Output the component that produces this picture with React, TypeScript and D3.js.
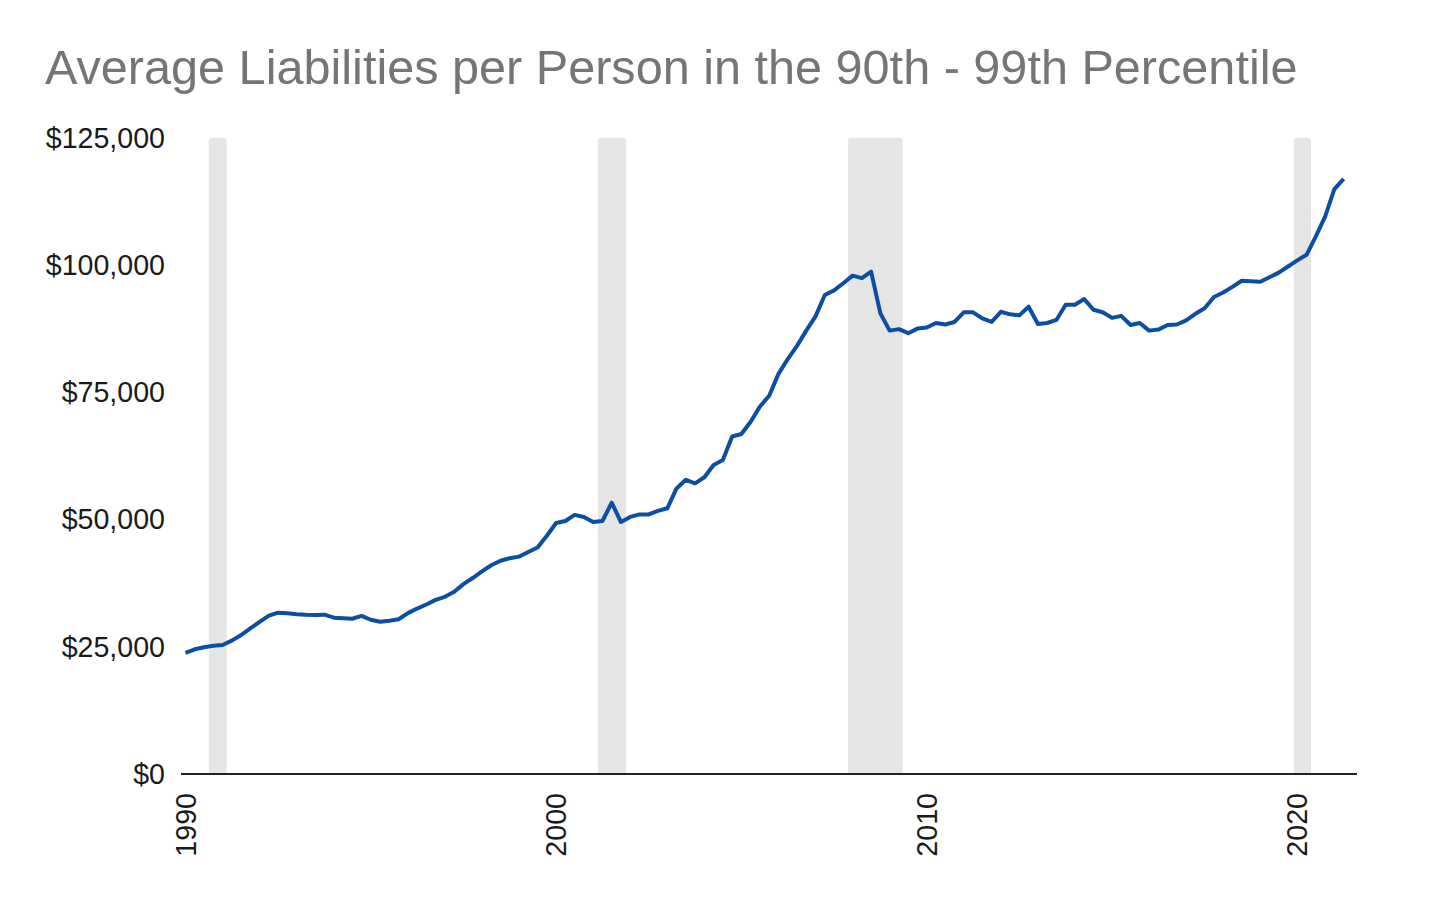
import React from 'react';
import * as d3 from 'd3';

// Average liabilities per person, 90th-99th percentile, quarterly from 1990 Q1
const startYear = 1990;
const liab1990s = [
  23800, 24500, 24900, 25200, 25350, 26200, 27300, 28600, 29900, 31100,
  31700, 31600, 31400, 31300, 31250, 31300, 30700, 30600, 30500, 31050,
  30300, 29900, 30100, 30400, 31600, 32500, 33300, 34200, 34800, 35800,
  37300, 38500, 39800, 41000, 41900, 42400, 42700, 43600, 44500, 46800,
];
const liab2000s = [
  49300, 49700, 50900, 50500, 49500, 49700, 53300, 49500, 50500, 51000,
  51000, 51700, 52200, 56100, 57800, 57100, 58300, 60700, 61700, 66300,
  66800, 69200, 72200, 74300, 78600, 81500, 84100, 87100, 89900, 94100,
  95000, 96400, 97900, 97400, 98700, 90500, 87100, 87400, 86600, 87500,
];
const liab2010s = [
  87700, 88600, 88300, 88800, 90700, 90700, 89500, 88800, 90800, 90300,
  90100, 91800, 88400, 88600, 89200, 92200, 92200, 93300, 91200, 90700,
  89600, 90000, 88200, 88600, 87100, 87300, 88200, 88300, 89100, 90400,
  91500, 93700, 94600, 95700, 96900, 96800, 96700, 97600, 98500, 99700,
];
const liab2020s = [100900, 102000, 105600, 109500, 114900, 116900];

// recession shading, as fractional years
const recessions: [number, number][] = [
  [1990.63, 1991.11],
  [2001.13, 2001.89],
  [2007.88, 2009.35],
  [2019.91, 2020.37],
];

const yTicks = [0, 25000, 50000, 75000, 100000, 125000];
const xTicks = [1990, 2000, 2010, 2020];
const title = 'Average Liabilities per Person in the 90th - 99th Percentile';

const font = '"Liberation Sans", Arial, sans-serif';

export default function App() {
  const values = [...liab1990s, ...liab2000s, ...liab2010s, ...liab2020s];
  const data = values.map((v, i) => ({ t: startYear + i / 4, v }));

  const x = d3.scaleLinear().domain([1990, 2020]).range([185.5, 1297.3]);
  const y = d3.scaleLinear().domain([0, 125000]).range([774, 137.7]);

  const line = d3
    .line<{ t: number; v: number }>()
    .x(d => x(d.t))
    .y(d => y(d.v));

  const fmt = d3.format('$,.0f');

  return (
    <div style={{ position: 'absolute', left: 0, top: 0 }}>
      <svg width={1456} height={900} style={{ display: 'block', background: '#fff' }}>
        <text x={45} y={84} fill="#757575" fontFamily={font} fontSize={48.6}>
          {title}
        </text>

        {recessions.map(([a, b], i) => (
          <rect
            key={i}
            x={x(a)}
            y={y(125000)}
            width={x(b) - x(a)}
            height={y(0) - y(125000)}
            rx={3}
            fill="#e5e5e5"
          />
        ))}

        {yTicks.map(t => (
          <text
            key={t}
            x={165}
            y={y(t)}
            dy="0.35em"
            textAnchor="end"
            fill="#1a1a1a"
            fontFamily={font}
            fontSize={28.6}
          >
            {fmt(t)}
          </text>
        ))}

        <path
          d={line(data) || ''}
          fill="none"
          stroke="#0b4ea2"
          strokeWidth={4}
          strokeLinejoin="round"
        />

        <line x1={181} x2={1357} y1={y(0)} y2={y(0)} stroke="#222" strokeWidth={2} />

        {xTicks.map(t => (
          <text
            key={t}
            transform={`translate(${x(t)},793) rotate(-90)`}
            dy="0.35em"
            textAnchor="end"
            fill="#1a1a1a"
            fontFamily={font}
            fontSize={28.6}
          >
            {t}
          </text>
        ))}
      </svg>
    </div>
  );
}
